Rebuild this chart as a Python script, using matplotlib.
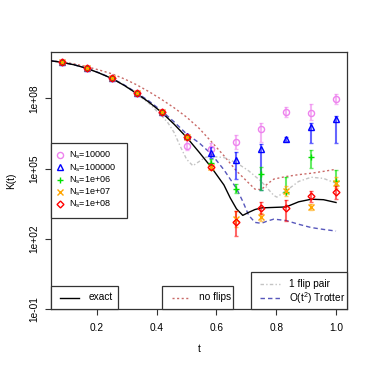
import numpy as np
import matplotlib
matplotlib.use("Agg")
import matplotlib.pyplot as plt
from matplotlib.patches import Rectangle
from matplotlib.lines import Line2D

plt.rcParams['font.family'] = ['Liberation Sans', 'DejaVu Sans']
plt.rcParams['mathtext.fontset'] = 'custom'
plt.rcParams['mathtext.rm'] = 'Liberation Sans'

# ---------------- data (log10 K) ----------------
t_pts = [1/12, 2/12, 3/12, 4/12, 5/12, 6/12, 7/12, 8/12, 9/12, 10/12, 11/12, 1.0]

ns_labels = ["10000", "100000", "1e+06", "1e+07", "1e+08"]

# values, lower and upper error limits (log10 K)
k_1e4 = [9.54, 9.28, 8.85, 8.21, 7.40, 5.95, 5.85, 6.13, 6.70, 7.40, 7.39, 7.97]
lo_1e4 = [9.54, 9.28, 8.85, 8.21, 7.40, 5.79, 5.58, 5.85, 6.15, 7.21, 7.08, 7.75]
hi_1e4 = [9.54, 9.28, 8.85, 8.21, 7.40, 6.20, 6.08, 6.45, 6.93, 7.61, 7.75, 8.18]

k_1e5 = [9.54, 9.28, 8.85, 8.21, 7.40, 6.40, 5.65, 5.37, 5.85, 6.26, 6.79, 7.10]
lo_1e5 = [9.54, 9.28, 8.85, 8.21, 7.40, 6.32, 5.45, 4.54, 4.10, 6.18, 6.09, 6.10]
hi_1e5 = [9.54, 9.28, 8.85, 8.21, 7.40, 6.48, 5.90, 5.72, 6.05, 6.33, 6.94, 7.24]

k_1e6 = [9.54, 9.28, 8.85, 8.21, 7.40, 6.34, 5.25, 4.12, 4.77, 4.02, 5.50, 4.45]
lo_1e6 = [9.54, 9.28, 8.85, 8.21, 7.40, 6.30, 5.10, 3.95, 4.09, 3.95, 5.01, 4.30]
hi_1e6 = [9.54, 9.28, 8.85, 8.21, 7.40, 6.38, 5.40, 4.34, 5.06, 4.63, 5.80, 4.95]

k_1e7 = [9.54, 9.28, 8.85, 8.21, 7.40, 6.34, 5.05, 2.85, 2.92, 4.04, 3.36, 4.38]
lo_1e7 = [9.54, 9.28, 8.85, 8.21, 7.40, 6.32, 4.98, 2.50, 2.75, 3.82, 3.25, 4.15]
hi_1e7 = [9.54, 9.28, 8.85, 8.21, 7.40, 6.36, 5.12, 3.20, 3.10, 4.25, 3.50, 4.62]

k_1e8 = [9.54, 9.28, 8.85, 8.21, 7.40, 6.34, 5.05, 2.72, 3.33, 3.32, 3.83, 4.02]
lo_1e8 = [9.54, 9.28, 8.85, 8.21, 7.40, 6.31, 4.97, 2.14, 3.06, 2.75, 3.58, 3.70]
hi_1e8 = [9.54, 9.28, 8.85, 8.21, 7.40, 6.37, 5.13, 3.20, 3.56, 3.65, 4.06, 4.25]

# curves
t_exact = [0, 0.042, 0.083, 0.125, 0.167, 0.208, 0.25, 0.292, 0.333, 0.375, 0.417,
           0.458, 0.5, 0.542, 0.583, 0.625, 0.646, 0.667, 0.688, 0.708, 0.729, 0.75,
           0.792, 0.833, 0.875, 0.917, 0.958, 1.0]
k_exact = [9.63, 9.61, 9.54, 9.43, 9.28, 9.08, 8.85, 8.55, 8.21, 7.83, 7.40,
           6.90, 6.34, 5.70, 5.05, 4.30, 3.75, 3.28, 3.00, 3.13, 3.25, 3.32,
           3.34, 3.36, 3.58, 3.69, 3.67, 3.55]

t_noflip = [0, 0.042, 0.083, 0.125, 0.167, 0.208, 0.25, 0.292, 0.333, 0.375, 0.417,
            0.458, 0.5, 0.542, 0.583, 0.625, 0.667, 0.708, 0.729, 0.75, 0.771,
            0.792, 0.833, 0.875, 0.917, 0.958, 1.0]
k_noflip = [9.63, 9.61, 9.56, 9.47, 9.35, 9.21, 9.05, 8.83, 8.58, 8.28, 7.95,
            7.60, 7.20, 6.72, 6.15, 5.55, 4.90, 4.38, 4.12, 4.10, 4.35,
            4.55, 4.66, 4.74, 4.80, 4.88, 4.97]

t_flip = [0, 0.042, 0.083, 0.125, 0.167, 0.208, 0.25, 0.292, 0.333, 0.375, 0.417,
          0.438, 0.458, 0.479, 0.5, 0.521, 0.542, 0.563, 0.583, 0.625, 0.667, 0.708,
          0.75, 0.792, 0.802, 0.833, 0.875, 0.917, 0.958, 1.0]
k_flip = [9.63, 9.61, 9.54, 9.43, 9.28, 9.08, 8.85, 8.55, 8.19, 7.78, 7.25,
          6.95, 6.55, 5.95, 5.40, 5.12, 5.30, 5.48, 5.52, 5.47, 5.25, 4.90,
          4.45, 3.85, 3.78, 4.05, 4.45, 4.63, 4.58, 4.37]

t_trot = [0, 0.042, 0.083, 0.125, 0.167, 0.208, 0.25, 0.292, 0.333, 0.375, 0.417,
          0.458, 0.5, 0.542, 0.583, 0.625, 0.667, 0.688, 0.708, 0.729, 0.75, 0.771,
          0.792, 0.833, 0.875, 0.917, 0.958, 1.0]
k_trot = [9.63, 9.61, 9.54, 9.43, 9.28, 9.09, 8.86, 8.57, 8.24, 7.88, 7.46,
          7.00, 6.48, 6.10, 5.62, 4.95, 4.15, 3.60, 3.00, 2.70, 2.66, 2.76,
          2.84, 2.78, 2.62, 2.48, 2.40, 2.33]

x_ticks = [0.2, 0.4, 0.6, 0.8, 1.0]
x_ticklabels = ["0.2", "0.4", "0.6", "0.8", "1.0"]
y_ticks_log = [-1, 2, 5, 8]
y_ticklabels = ["1e-01", "1e+02", "1e+05", "1e+08"]

# ---------------- figure ----------------
W = H = 374
fig = plt.figure(figsize=(W / 100, H / 100), dpi=100)
L, R_, T, B = 51, 347, 52, 309
ax = fig.add_axes([L / W, (H - B) / H, (R_ - L) / W, (B - T) / H])
ax.set_yscale('log')
ax.set_xlim(1/12 - 0.0367, 1 + 0.0367)
ax.set_ylim(10 ** -1.0, 10 ** 9.98)

fs = 7.3
fs_leg = 6.5
p = lambda a: 10 ** np.asarray(a, dtype=float)

C_NOFLIP = '#c0504d'
C_FLIP = '#c4c4c4'
C_TROT = '#3a3ab0'
LS_NOFLIP = (0, (1.5, 1.8))
LS_FLIP = (0, (2.5, 1.6, 1, 1.6))
LS_TROT = (0, (3.2, 2.2))

ax.plot(t_exact, p(k_exact), color='black', lw=1.0, zorder=4)
ax.plot(t_noflip, p(k_noflip), color=C_NOFLIP, lw=1.0, ls=LS_NOFLIP, alpha=0.85, zorder=3)
ax.plot(t_flip, p(k_flip), color=C_FLIP, lw=1.0, ls=LS_FLIP, zorder=3)
ax.plot(t_trot, p(k_trot), color=C_TROT, lw=1.0, ls=LS_TROT, alpha=0.85, zorder=3)

series = [
    (k_1e4, lo_1e4, hi_1e4, '#ee82ee', 'o'),
    (k_1e5, lo_1e5, hi_1e5, '#0000ff', '^'),
    (k_1e6, lo_1e6, hi_1e6, '#00e000', '+'),
    (k_1e7, lo_1e7, hi_1e7, '#ffa500', 'x'),
    (k_1e8, lo_1e8, hi_1e8, '#ff0000', 'D'),
]

def msize(mk):
    return {'D': 3.5, '^': 4.8}.get(mk, 4.4)

for vals, lo, hi, col, mk in series:
    v = p(vals)
    yerr = np.vstack([v - p(lo), p(hi) - v])
    ax.errorbar(t_pts, v, yerr=yerr, fmt='none', ecolor=col, elinewidth=1.5,
                capsize=1.6, capthick=1.0, alpha=0.6, zorder=5)
    ax.plot(t_pts, v, ls='none', marker=mk, ms=msize(mk), mfc='none', mec=col,
            mew=1.0, zorder=6)

# axes styling (R-like)
for s in ax.spines.values():
    s.set_color('#333333')
    s.set_linewidth(0.9)
ax.set_xticks(x_ticks)
ax.set_xticklabels(x_ticklabels, fontsize=fs)
ax.set_yticks(p(y_ticks_log))
ax.set_yticklabels(y_ticklabels, fontsize=fs, rotation=90, va='center')
ax.yaxis.set_minor_locator(matplotlib.ticker.NullLocator())
ax.tick_params(axis='both', direction='out', length=4.3, width=0.8, color='#333333')
ax.tick_params(axis='x', pad=6)
ax.tick_params(axis='y', pad=4.5)
ax.set_xlabel('t', fontsize=fs, labelpad=8)
ax.set_ylabel('K(t)', fontsize=fs, labelpad=9)

# ---------------- legends (drawn in R style) ----------------
def fx(px):
    return (px - L) / (R_ - L)

def fy(py):
    return (B - py) / (B - T)

def box(x0, y0, x1, y1):
    ax.add_patch(Rectangle((fx(x0), fy(y1)), fx(x1) - fx(x0), fy(y0) - fy(y1),
                           transform=ax.transAxes, facecolor='white',
                           edgecolor='#333333', lw=0.9, zorder=10, clip_on=False))

def txt(px, py, s, size=fs_leg):
    ax.text(fx(px), fy(py), s, transform=ax.transAxes, fontsize=size,
            va='center', ha='left', zorder=12, clip_on=False)

def sample_line(x0, x1, py, **kw):
    ax.add_line(Line2D([fx(x0), fx(x1)], [fy(py), fy(py)], transform=ax.transAxes,
                       zorder=11, clip_on=False, **kw))

# markers legend
box(51, 143, 126.5, 218)
for i, (lab, (_, _, _, col, mk)) in enumerate(zip(ns_labels, series)):
    py = 155 + 12.25 * i
    ax.add_line(Line2D([fx(60)], [fy(py)], transform=ax.transAxes, ls='none',
                       marker=mk, ms=msize(mk), mfc='none', mec=col, mew=1.0,
                       zorder=11, clip_on=False))
    txt(69, py + 0.5, r'$\mathregular{N_s}$=' + lab)

# exact
box(51, 285.7, 117.7, 309)
sample_line(60, 79, 297.5, color='black', lw=1.0)
txt(89, 297.5, 'exact', fs)

# no flips
box(161.7, 285.7, 233.3, 309)
sample_line(171.7, 190, 297.5, color=C_NOFLIP, lw=1.0, ls=LS_NOFLIP, alpha=0.85)
txt(199.3, 297.5, 'no flips', fs)

# 1 flip pair / Trotter
box(251, 271.7, 347, 309)
sample_line(260, 280, 284.3, color=C_FLIP, lw=1.0, ls=LS_FLIP)
txt(289.3, 284.3, '1 flip pair', fs)
sample_line(260, 280, 297.7, color=C_TROT, lw=1.0, ls=LS_TROT, alpha=0.85)
txt(289.3, 297.7, r'O(t$^\mathregular{2}$) Trotter', fs)

fig.savefig('out.png', dpi=100, facecolor='white')
